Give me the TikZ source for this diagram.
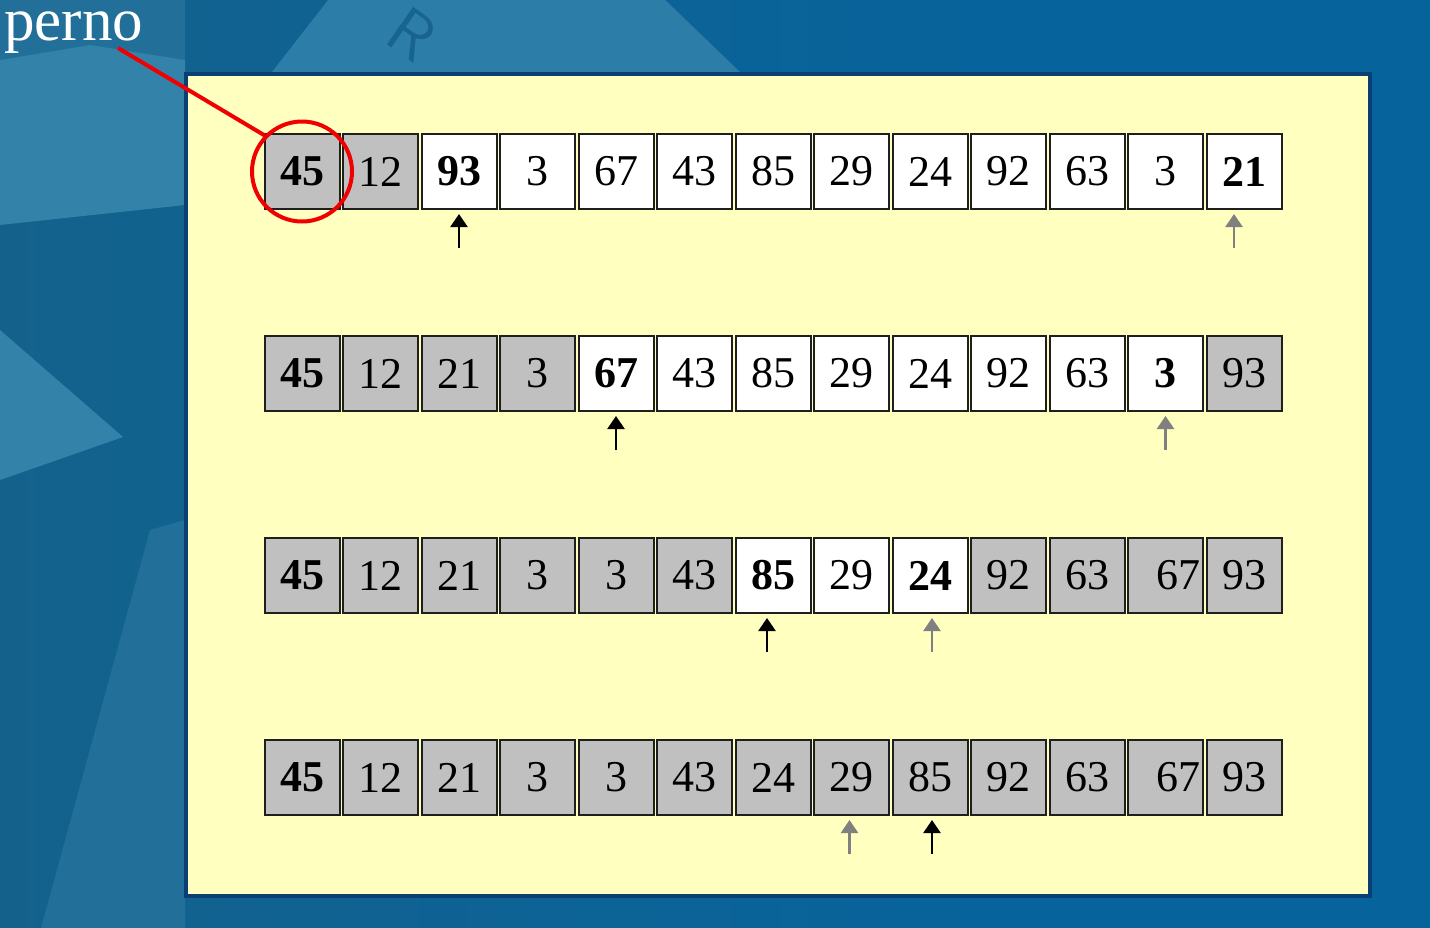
\documentclass[tikz,border=0pt]{standalone}
\usepackage{fontspec}
\setmainfont{Liberation Serif}
\usetikzlibrary{arrows.meta}
\definecolor{bgflat}{HTML}{07639C}
\definecolor{bgdark}{HTML}{14628C}
\definecolor{bgmid}{HTML}{226F9A}
\definecolor{bglight}{HTML}{3282AA}
\definecolor{panelyellow}{HTML}{FFFFC0}
\definecolor{panelnavy}{HTML}{0B3F73}
\definecolor{cellgrey}{HTML}{C0C0C0}
\definecolor{arrowgrey}{HTML}{808080}
\definecolor{pinred}{HTML}{F00000}
\begin{document}
\begin{tikzpicture}[x=1pt,y=-1pt,
    cell/.style={draw=black!88,line width=2pt,minimum width=75pt,minimum height=75pt,
                 inner sep=0pt,font=\fontsize{44}{44}\selectfont},
    fixed/.style={fill=cellgrey},
    open/.style={fill=white},
    bold/.style={font=\fontsize{44}{44}\selectfont\bfseries},
    plain/.style={},
    lptr/.style={-{Triangle[width=17pt,length=13pt]},line width=2.5pt,shorten >=4pt},
    rptr/.style={lptr,draw=arrowgrey,fill=arrowgrey}]

    \useasboundingbox (0,0) rectangle (1430,927);

    \fill[bgflat] (-5,-5) rectangle (1435,932);
    \shade[left color=bgdark,right color=bgflat] (-5,-5) rectangle (1000,932);
    \fill[bgmid] (0,0) -- (185,0) -- (185,60) -- (0,60) -- cycle;
    \fill[bglight] (0,60) -- (90,45) -- (185,60) -- (185,205) -- (0,225) -- cycle;
    \fill[bglight] (0,330) -- (123,437) -- (0,480) -- cycle;
    \fill[bgmid] (185,520) -- (150,530) -- (40,932) -- (185,932) -- cycle;
    \fill[bglight!85!bgflat] (272,72) -- (332,-5) -- (660,-5) -- (740,72) -- cycle;
    \node[text=bgdark!90!bglight,rotate=-35,inner sep=0pt,
          font=\sffamily\fontsize{66}{66}\selectfont] (key) at (412,34) {R};

    \draw[draw=panelnavy,line width=4pt,fill=panelyellow] (185.5,74) rectangle (1369.5,896);

    \foreach \val/\st/\wt [count=\i] in {45/fixed/bold,12/fixed/plain,93/open/bold,3/open/plain,
        67/open/plain,43/open/plain,85/open/plain,29/open/plain,24/open/plain,92/open/plain,
        63/open/plain,3/open/plain,21/open/bold}
        \node[cell,\st,\wt] (a\i) at ({302+78.5*(\i-1)},171.5) {\val};

    \foreach \val/\st/\wt [count=\i] in {45/fixed/bold,12/fixed/plain,21/fixed/plain,3/fixed/plain,
        67/open/bold,43/open/plain,85/open/plain,29/open/plain,24/open/plain,92/open/plain,
        63/open/plain,3/open/bold,93/fixed/plain}
        \node[cell,\st,\wt] (b\i) at ({302+78.5*(\i-1)},373.5) {\val};

    \foreach \val/\st/\wt [count=\i] in {45/fixed/bold,12/fixed/plain,21/fixed/plain,3/fixed/plain,
        3/fixed/plain,43/fixed/plain,85/open/bold,29/open/plain,24/open/bold,92/fixed/plain,
        63/fixed/plain,{\hspace*{26pt}67}/fixed/plain,93/fixed/plain}
        \node[cell,\st,\wt] (c\i) at ({302+78.5*(\i-1)},575.5) {\val};

    \foreach \val/\st/\wt [count=\i] in {45/fixed/bold,12/fixed/plain,21/fixed/plain,3/fixed/plain,
        3/fixed/plain,43/fixed/plain,24/fixed/plain,29/fixed/plain,85/fixed/plain,92/fixed/plain,
        63/fixed/plain,{\hspace*{26pt}67}/fixed/plain,93/fixed/plain}
        \node[cell,\st,\wt] (d\i) at ({302+78.5*(\i-1)},777.5) {\val};

    \path (a3.south) ++(0,38) coordinate (ta3)
          (a13.south) ++(-10,38) coordinate (ta13)
          (b5.south) ++(0,38) coordinate (tb5)
          (b12.south) ++(0,38) coordinate (tb12)
          (c7.south) ++(-6,38) coordinate (tc7)
          (c9.south) ++(2,38) coordinate (tc9)
          (d8.south) ++(-2,38) coordinate (td8)
          (d9.south) ++(2,38) coordinate (td9);
    \draw[lptr] (ta3) -- (ta3 |- a3.south);
    \draw[rptr] (ta13) -- (ta13 |- a13.south);
    \draw[lptr] (tb5) -- (tb5 |- b5.south);
    \draw[rptr] (tb12) -- (tb12 |- b12.south);
    \draw[lptr] (tc7) -- (tc7 |- c7.south);
    \draw[rptr] (tc9) -- (tc9 |- c9.south);
    \draw[rptr] (td8) -- (td8 |- d8.south);
    \draw[lptr] (td9) -- (td9 |- d9.south);

    \node[anchor=base west,inner sep=0pt,text=white,font=\fontsize{61}{61}\selectfont] (perno) at (4,40) {perno};
    \node[circle,draw=pinred,line width=4pt,minimum size=100pt,inner sep=0pt] (pin) at (a1) {};
    \coordinate (tail) at (118,48);
    \draw[pinred,line width=4pt] (tail) -- (pin.136);
\end{tikzpicture}
\end{document}
